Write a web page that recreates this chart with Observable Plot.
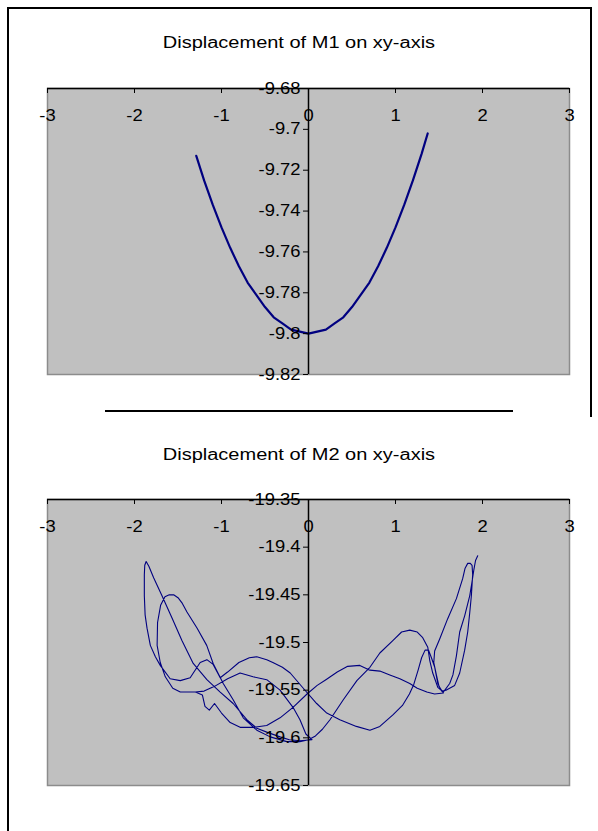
<!DOCTYPE html>
<html><head><meta charset="utf-8">
<script src="https://cdn.jsdelivr.net/npm/d3@7"></script>
<script src="https://cdn.jsdelivr.net/npm/@observablehq/plot@0.6"></script>
<style>
body{margin:0;background:#fff;font-family:"Liberation Sans",Arial,sans-serif;}
#page{position:relative;width:598px;height:831px;overflow:hidden;background:#fff;}
.fr{position:absolute;background:#000;}
.title{position:absolute;left:0;width:598px;text-align:center;font-size:16px;color:#000;line-height:18px;}
.title span{display:inline-block;transform:scaleX(1.25);transform-origin:center;}
.chart{position:absolute;left:0;}
.chart svg{overflow:visible;}
</style></head><body>
<div id="page">
  <div class="fr" style="left:7px;top:7px;width:2px;height:824px"></div>
  <div class="fr" style="left:7px;top:7px;width:585px;height:2px"></div>
  <div class="fr" style="left:590px;top:7px;width:2px;height:410px"></div>
  <div class="title" style="top:34px"><span>Displacement of M1 on xy-axis</span></div>
  <div class="chart" id="c1" style="top:60px"></div>
  <div class="fr" style="left:105px;top:410px;width:408px;height:2px"></div>
  <div class="title" style="top:446px"><span>Displacement of M2 on xy-axis</span></div>
  <div class="chart" id="c2" style="top:475px"></div>
</div>
<script>
// ---- data ----
const xTicks = [-3, -2, -1, 0, 1, 2, 3];
const m1YTicks = [-9.68, -9.7, -9.72, -9.74, -9.76, -9.78, -9.8, -9.82];
const m2YTicks = [-19.35, -19.4, -19.45, -19.5, -19.55, -19.6, -19.65];

const m1X = [-1.29,-1.2,-1.1,-1.0,-0.9,-0.8,-0.7,-0.6,-0.5,-0.4,-0.3,-0.2,-0.1,0,0.1,0.2,0.3,0.4,0.5,0.6,0.7,0.8,0.9,1.0,1.1,1.2,1.3,1.37];
const m1Y = [-9.713,-9.725,-9.737,-9.748,-9.758,-9.767,-9.775,-9.781,-9.787,-9.792,-9.795,-9.798,-9.799,-9.800,-9.799,-9.798,-9.795,-9.792,-9.787,-9.781,-9.775,-9.767,-9.758,-9.748,-9.737,-9.725,-9.712,-9.702];

const m2X = [
 -1.40,-1.30,-1.20,-1.08,-0.93,
 -0.786,-0.637,-0.48,-0.327,-0.178,-0.098,-0.03,0.04,
 -0.10,-0.22,-0.327,-0.48,-0.594,-0.709,-0.866,-1.015,-1.168,-1.325,-1.455,-1.57,-1.684,-1.78,-1.835,-1.866,-1.882,-1.887,-1.887,-1.878,-1.856,-1.818,-1.76,-1.704,-1.59,-1.474,-1.36,-1.245,-1.168,-1.096,-1.015,
 -0.93,-0.80,-0.68,-0.594,-0.48,-0.41,-0.30,-0.21,-0.06,0.094,0.21,0.36,0.55,0.706,0.82,0.97,1.08,1.16,1.21,1.26,1.30,1.34,1.38,1.413,1.451,1.486,1.53,1.58,
 1.68,1.738,1.795,1.83,1.853,1.872,1.887,1.88,1.86,1.83,1.80,1.772,1.70,1.6,1.509,1.45,1.44,1.47,1.50,1.55,1.45,1.36,1.25,1.164,1.05,0.935,0.82,0.706,
 0.59,0.45,0.33,0.2,0.1,-0.017,-0.178,-0.327,-0.48,-0.637,-0.786,-0.90,-1.0,-1.08,-1.14,-1.19,-1.22,-1.30,-1.40,-1.474,-1.56,-1.646,-1.704,-1.74,-1.735,-1.70,-1.65,-1.60,-1.55,-1.50,-1.45,-1.397,-1.28,-1.17,-1.096,-0.98,-0.866,-0.75,-0.594,-0.44,-0.25,-0.10,0.0,0.08,
 0.16,0.247,0.4,0.556,0.706,0.82,0.969,1.07,1.164,1.25,1.313,1.371,1.394,1.428,1.486,1.55,1.623,1.66,1.70,1.738,1.795,1.853,1.875,1.90,1.92,1.945
];
const m2Y = [
 -19.552,-19.552,-19.551,-19.546,-19.538,
 -19.532,-19.536,-19.539,-19.550,-19.568,-19.581,-19.596,-19.602,
 -19.603,-19.602,-19.599,-19.594,-19.590,-19.581,-19.564,-19.552,-19.539,-19.522,-19.498,-19.474,-19.451,-19.432,-19.420,-19.415,-19.419,-19.429,-19.451,-19.471,-19.485,-19.503,-19.515,-19.524,-19.538,-19.540,-19.537,-19.521,-19.518,-19.523,-19.537,
 -19.531,-19.521,-19.516,-19.515,-19.518,-19.521,-19.526,-19.532,-19.548,-19.564,-19.574,-19.581,-19.588,-19.592,-19.588,-19.576,-19.566,-19.554,-19.544,-19.529,-19.516,-19.508,-19.508,-19.516,-19.526,-19.543,-19.551,-19.550,
 -19.545,-19.532,-19.508,-19.489,-19.469,-19.451,-19.429,-19.419,-19.417,-19.417,-19.422,-19.433,-19.454,-19.475,-19.496,-19.509,-19.521,-19.534,-19.546,-19.553,-19.554,-19.552,-19.548,-19.543,-19.538,-19.534,-19.530,-19.529,
 -19.524,-19.525,-19.531,-19.539,-19.545,-19.554,-19.568,-19.579,-19.587,-19.589,-19.589,-19.584,-19.574,-19.564,-19.571,-19.567,-19.555,-19.552,-19.552,-19.552,-19.548,-19.536,-19.521,-19.503,-19.479,-19.461,-19.452,-19.450,-19.450,-19.453,-19.459,-19.468,-19.485,-19.503,-19.522,-19.543,-19.560,-19.579,-19.592,-19.599,-19.604,-19.604,-19.602,-19.598,
 -19.591,-19.581,-19.560,-19.540,-19.526,-19.511,-19.498,-19.489,-19.487,-19.489,-19.495,-19.505,-19.519,-19.532,-19.547,-19.552,-19.543,-19.534,-19.514,-19.489,-19.472,-19.451,-19.439,-19.424,-19.414,-19.409
];

// ---- tables ----
const m1 = m1X.map((x, i) => ({x, y: m1Y[i]}));
const m2 = m2X.map((x, i) => ({x, y: m2Y[i]}));

function stretchLabels(svg, s) {
  svg.querySelectorAll('g[aria-label$="tick label"] text').forEach(t => {
    const tr = t.getAttribute("transform");
    if (tr && /translate/.test(tr)) {
      t.setAttribute("transform", tr + ` scale(${s},1)`);
    } else {
      const x = +(t.getAttribute("x") || 0), y = +(t.getAttribute("y") || 0);
      t.removeAttribute("x"); t.removeAttribute("y");
      t.setAttribute("transform", `translate(${x},${y}) scale(${s},1)` + (tr ? " " + tr : ""));
    }
  });
  return svg;
}

function chart(data, yTicks, top, plotH, lineW) {
  const yMax = d3.max(yTicks), yMin = d3.min(yTicks);
  const svg = Plot.plot({
    width: 598,
    height: top + plotH + 22,
    marginLeft: 47,
    marginRight: 29,
    marginTop: top,
    marginBottom: 22,
    style: {fontFamily: "'Liberation Sans', Arial, sans-serif", fontSize: "16px", color: "#000", background: "transparent", overflow: "visible"},
    x: {domain: [-3, 3], label: null},
    y: {domain: [yMin, yMax], label: null},
    marks: [
      Plot.frame({fill: "#c0c0c0", stroke: "#8c8c8c", strokeWidth: 1.5}),
      Plot.line(data, {x: "x", y: "y", stroke: "#000080", strokeWidth: lineW, strokeLinejoin: "round"}),
      Plot.ruleY([yMax], {stroke: "#000", strokeWidth: 1.5}),
      Plot.ruleX([0], {stroke: "#000", strokeWidth: 1.5}),
      Plot.axisX(xTicks, {anchor: "bottom", y: yMax, tickSize: 5, tickPadding: 16, tickFormat: d => String(d), label: null, stroke: "#000", fill: "#000"}),
      Plot.axisY(yTicks, {anchor: "left", x: 0, tickSize: 5, tickPadding: 3, tickFormat: d => String(d), label: null, stroke: "#000", fill: "#000"})
    ]
  });
  return stretchLabels(svg, 1.15);
}

document.getElementById("c1").appendChild(chart(m1, m1YTicks, 28, 286, 2.2));
document.getElementById("c2").appendChild(chart(m2, m2YTicks, 24, 286, 1.1));
</script>
</body></html>
